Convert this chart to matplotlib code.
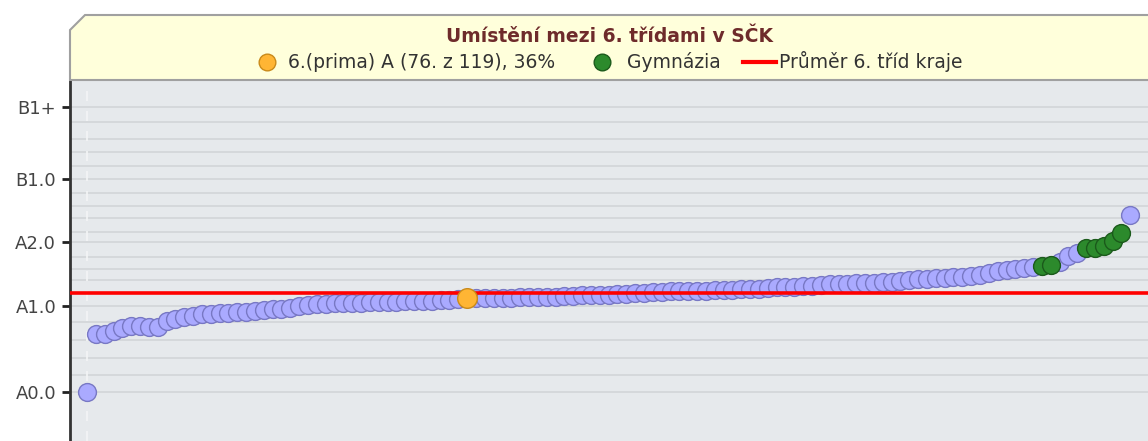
import matplotlib
matplotlib.use("Agg")
import matplotlib.pyplot as plt
from matplotlib.patches import Polygon
from matplotlib.lines import Line2D

# Úrovně na ose y (pozice v jednotkách grafu)
level_labels = ["A0.0", "A1.0", "A2.0", "B1.0", "B1+"]
level_pos = [0, 86, 150, 213, 285]
grid_pos = [0, 17, 34, 52, 70, 86, 99, 112, 123, 135, 150, 160, 174, 186, 199, 213, 226, 240, 253, 270, 285]

# Výsledky 119 tříd seřazené vzestupně
scores = [0, 58, 58, 61, 64, 66, 66, 65, 65, 71,
          73, 75, 76, 78, 78, 79, 79, 80, 80, 81,
          82, 83, 83, 84, 86, 87, 88, 88, 89, 89,
          89, 89, 90, 90, 90, 90, 91, 91, 91, 91,
          92, 92, 93, 94, 94, 94, 94, 94, 94, 95,
          95, 95, 95, 95, 96, 96, 97, 97, 97, 97,
          98, 98, 99, 99, 100, 100, 101, 101, 101, 101,
          101, 102, 102, 102, 103, 103, 103, 104, 105, 105,
          105, 106, 106, 107, 108, 108, 108, 109, 109, 109,
          110, 110, 111, 112, 113, 113, 114, 114, 115, 115,
          116, 117, 119, 121, 122, 123, 124, 125, 126, 127,
          130, 136, 139, 144, 144, 146, 151, 159, 177]
school_idx = 43
gym_idx = [108, 109, 113, 114, 115, 116, 117]
region_avg = 99

title = "Umístění mezi 6. třídami v SČK"
legend_school = "6.(prima) A (76. z 119), 36%"
legend_gym = "Gymnázia"
legend_avg = "Průměr 6. tříd kraje"

W, H = 1148, 441
plt.rcParams["font.family"] = ["DejaVu Sans"]
fig = plt.figure(figsize=(W / 100, H / 100), dpi=100)


def fx(px):
    return px / W


def fy(py):
    return 1 - py / H


ax = fig.add_axes([fx(70), 0, fx(1148) - fx(70), fy(80)])
ax.set_facecolor("#e6e9ec")
ax.set_xlim(-1.92, 120.0)
ax.set_ylim(-49, 312)

for g in grid_pos:
    ax.axhline(g, color="#d4d7da", lw=1.3, zorder=0)
ax.axvline(0, color="#f4f5f6", lw=1.2, ls=(0, (6, 6)), zorder=0)

x = list(range(len(scores)))
blue_x = [i for i in x if i != school_idx and i not in gym_idx]
ax.scatter(blue_x, [scores[i] for i in blue_x], s=165, c="#aaaaff",
           edgecolors="#7878c4", linewidths=1.0, zorder=3)
ax.axhline(region_avg, color="#ff0000", lw=2.6, zorder=4)
ax.scatter(gym_idx, [scores[i] for i in gym_idx], s=165, c="#2c8a2c",
           edgecolors="#1b5a1b", linewidths=1.0, zorder=5)
ax.scatter([school_idx], [scores[school_idx]], s=200, c="#ffb534",
           edgecolors="#c98a1a", linewidths=1.0, zorder=6)

ax.set_yticks(level_pos)
ax.set_yticklabels(level_labels, fontsize=13, color="#444444")
ax.tick_params(axis="y", length=6, width=2, color="#222222", pad=4)
ax.set_xticks([])
for side in ["top", "right", "bottom"]:
    ax.spines[side].set_visible(False)
ax.spines["left"].set_color("#333333")
ax.spines["left"].set_linewidth(2)

# Záhlaví s legendou
header = Polygon([(fx(70), fy(80)), (fx(70), fy(30)), (fx(85), fy(15)),
                  (fx(1150), fy(15)), (fx(1150), fy(80))],
                 closed=True, transform=fig.transFigure, facecolor="#ffffdb",
                 edgecolor="#a0a0a0", lw=1.5, zorder=1)
fig.add_artist(header)

fig.text(fx(609), fy(36), title, ha="center", va="center", fontsize=13.5,
         fontweight="bold", color="#6e2b2b")

fig.add_artist(Line2D([fx(267)], [fy(62)], marker="o", ms=12, mfc="#ffb534",
                      mec="#c98a1a", transform=fig.transFigure))
fig.text(fx(288), fy(62), legend_school, ha="left", va="center", fontsize=13.5, color="#333333")
fig.add_artist(Line2D([fx(602)], [fy(62)], marker="o", ms=12, mfc="#2c8a2c",
                      mec="#1b5a1b", transform=fig.transFigure))
fig.text(fx(627), fy(62), legend_gym, ha="left", va="center", fontsize=13.5, color="#333333")
fig.add_artist(Line2D([fx(743), fx(776)], [fy(62), fy(62)], color="#ff0000", lw=3,
                      transform=fig.transFigure))
fig.text(fx(779), fy(62), legend_avg, ha="left", va="center", fontsize=13.5, color="#333333")

fig.savefig("out.png", dpi=100)
